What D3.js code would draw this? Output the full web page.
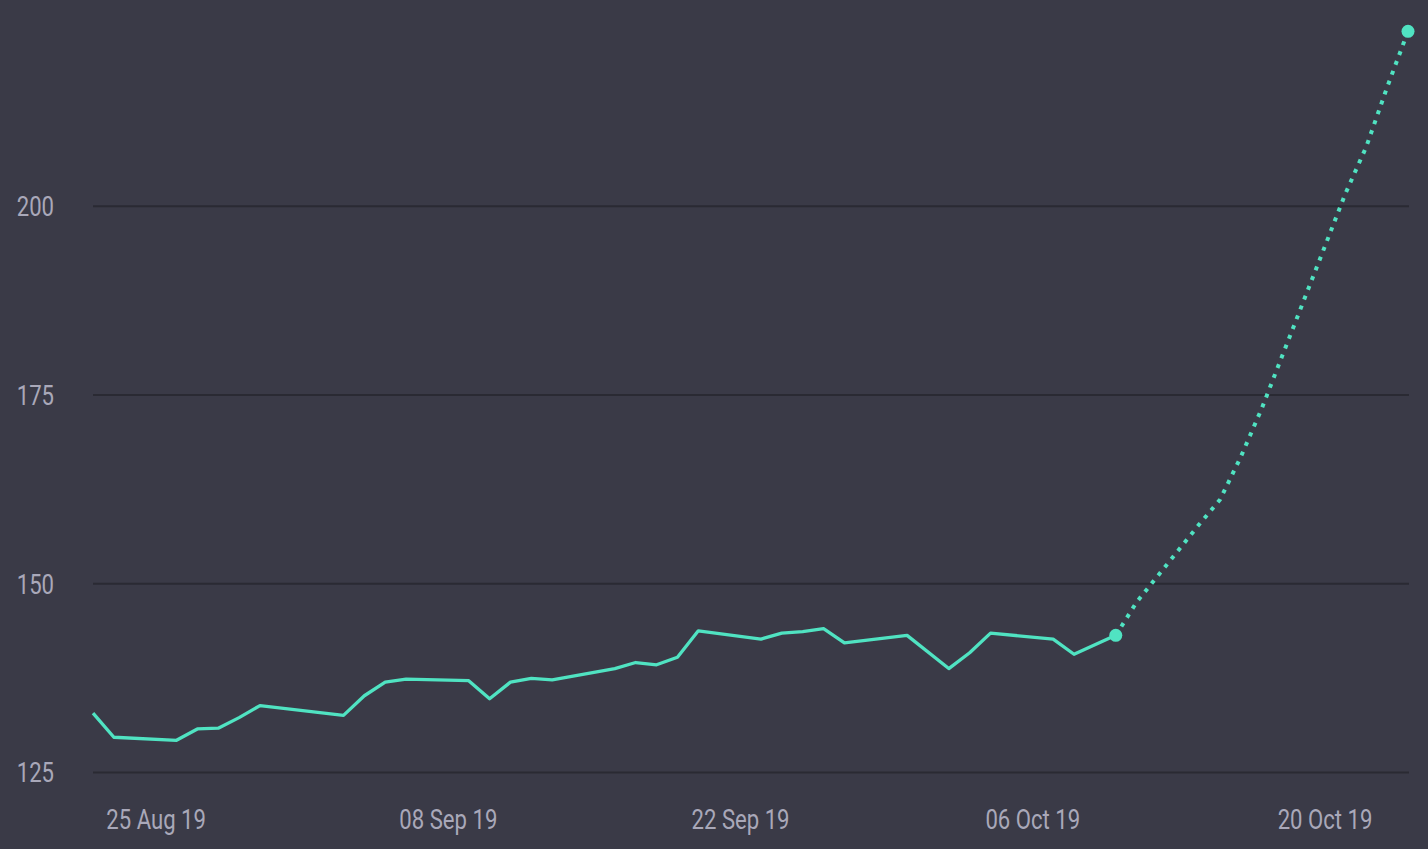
<!DOCTYPE html>
<html>
<head>
<meta charset="utf-8">
<script src="https://cdn.jsdelivr.net/npm/d3@7"></script>
<style>
  html, body { margin: 0; padding: 0; background: #3a3a47; }
  svg { display: block; }
  .axis text { fill: #a9a8b9; font-family: Roboto, "Noto Sans", sans-serif; font-size: 28px; }
  .axis path { display: none; }
  .y-axis line { stroke: #2a2a33; stroke-width: 2; }
  .x-axis line { display: none; }
</style>
</head>
<body>
<svg class="chart"></svg>
<script>
// Actual series (weekdays)
const ACTUAL_DATES = [
  "2019-08-22", "2019-08-23", "2019-08-26", "2019-08-27", "2019-08-28", "2019-08-29", "2019-08-30",
  "2019-09-03", "2019-09-04", "2019-09-05", "2019-09-06", "2019-09-09", "2019-09-10", "2019-09-11",
  "2019-09-12", "2019-09-13", "2019-09-16", "2019-09-17", "2019-09-18", "2019-09-19", "2019-09-20",
  "2019-09-23", "2019-09-24", "2019-09-25", "2019-09-26", "2019-09-27", "2019-09-30", "2019-10-02",
  "2019-10-03", "2019-10-04", "2019-10-07", "2019-10-08", "2019-10-10"
];
const ACTUAL_VALUES = [
  132.8, 129.6, 129.2, 130.7, 130.8, 132.2, 133.8,
  132.5, 135.1, 136.9, 137.3, 137.1, 134.7, 136.9,
  137.4, 137.2, 138.7, 139.5, 139.2, 140.2, 143.7,
  142.6, 143.4, 143.6, 144.0, 142.1, 143.1, 138.7,
  140.8, 143.4, 142.6, 140.6, 143.1
];

// Forecast series (starts at the last actual point)
const FORECAST_DATES = [
  "2019-10-10", "2019-10-11", "2019-10-14", "2019-10-15", "2019-10-16", "2019-10-17",
  "2019-10-18", "2019-10-21", "2019-10-22", "2019-10-23", "2019-10-24"
];
const FORECAST_VALUES = [143.1, 147.5, 157.8, 161.1, 166.8, 173.2, 180.3, 201.6, 207.8, 215.7, 223.1];

// Tick labels
const X_TICKS = ["2019-08-25", "2019-09-08", "2019-09-22", "2019-10-06", "2019-10-20"];
const Y_TICKS = [125, 150, 175, 200];

const WIDTH = 1428;
const HEIGHT = 849;
const MARGINS = { top: 17, right: 19, bottom: 77, left: 93 };
const TEXT_SQUEEZE = 0.79; // no condensed face installed, so narrow Roboto a bit

const parseDate = d3.timeParse("%Y-%m-%d");
const actual = ACTUAL_DATES.map((d, i) => ({ date: parseDate(d), value: ACTUAL_VALUES[i] }));
const forecast = FORECAST_DATES.map((d, i) => ({ date: parseDate(d), value: FORECAST_VALUES[i] }));

const CHART = d3.select(".chart")
    .attr("width", WIDTH)
    .attr("height", HEIGHT);

const X_fxn = d3.scaleTime()
    .domain([actual[0].date, forecast[forecast.length - 1].date])
    .range([MARGINS.left, WIDTH - MARGINS.right - 1]);
const Y_fxn = d3.scaleLinear()
    .domain([125, 225])
    .range([HEIGHT - MARGINS.bottom, MARGINS.top]);

// gridlines + y labels
CHART.append("g").attr("class", "axis y-axis")
    .attr("transform", `translate(${MARGINS.left}, 0)`)
    .call(d3.axisLeft(Y_fxn)
        .tickValues(Y_TICKS)
        .tickSize(-(WIDTH - MARGINS.left - MARGINS.right)))
    .selectAll("text")
    .attr("x", -39 / TEXT_SQUEEZE)
    .attr("dy", "0.35em")
    .attr("transform", `scale(${TEXT_SQUEEZE}, 1)`);

CHART.append("g").attr("class", "axis x-axis")
    .attr("transform", `translate(0, ${HEIGHT - MARGINS.bottom})`)
    .call(d3.axisBottom(X_fxn)
        .tickValues(X_TICKS.map(parseDate))
        .tickFormat(d3.timeFormat("%d %b %y"))
        .tickSize(0))
    .selectAll("text")
    .attr("y", 57)
    .attr("dy", "0")
    .attr("transform", `scale(${TEXT_SQUEEZE}, 1)`);

const line_fxn = d3.line()
    .x(d => X_fxn(d.date))
    .y(d => Y_fxn(d.value));

CHART.append("path").datum(actual)
    .attr("fill", "none")
    .attr("stroke", "#50e3c2")
    .attr("stroke-width", 3.3)
    .attr("stroke-linejoin", "round")
    .attr("d", line_fxn);

CHART.append("path").datum(forecast)
    .attr("fill", "none")
    .attr("stroke", "#50e3c2")
    .attr("stroke-width", 4)
    .attr("stroke-dasharray", "4,6.5")
    .attr("d", line_fxn);

CHART.selectAll(".end-dot")
    .data([actual[actual.length - 1], forecast[forecast.length - 1]])
    .join("circle")
    .attr("class", "end-dot")
    .attr("cx", d => X_fxn(d.date))
    .attr("cy", d => Y_fxn(d.value))
    .attr("r", 6.5)
    .attr("fill", "#50e3c2");
</script>
</body>
</html>
